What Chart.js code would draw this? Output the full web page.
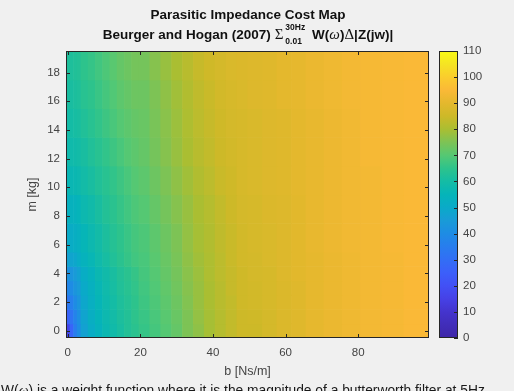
<!DOCTYPE html>
<html>
<head>
<meta charset="utf-8">
<script src="https://cdn.jsdelivr.net/npm/chart.js@4.4.1/dist/chart.umd.min.js"></script>
<style>
  html, body { margin: 0; padding: 0; background: #f0f0f0; }
  #fig { position: relative; width: 514px; height: 391px; overflow: hidden;
         font-family: "Liberation Sans", Arial, sans-serif; }
  #main { position: absolute; left: 0; top: 0; }
  #cbar { position: absolute; left: 439px; top: 0; }
  .title { position: absolute; left: 0; width: 496px; text-align: center;
           font-weight: bold; color: #111; font-size: 13.5px; white-space: nowrap; }
  #t1 { top: 7px; line-height: 16px; }
  #t2 { top: 26px; line-height: 16px; }
  .sym { font-family: "Liberation Serif", "DejaVu Serif", serif; font-weight: normal; font-size: 15px; }
  .ss { position: relative; display: inline-block; width: 25px; height: 10px; font-size: 8.5px; }
  .ss span { position: absolute; left: 2px; line-height: 9px; }
  .ss .sup { top: -6px; }
  .ss .sub { top: 8px; }
  #note { position: absolute; left: 1px; top: 383px; font-size: 13.8px; line-height: 15px;
          color: #1a1a1a; white-space: nowrap; }
  #note .sym { font-size: 14px; }
</style>
</head>
<body>
<div id="fig">
  <canvas id="main" width="514" height="391"></canvas>
  <canvas id="cbar" width="75" height="391"></canvas>
  <div class="title" id="t1">Parasitic Impedance Cost Map</div>
  <div class="title" id="t2">Beurger and Hogan (2007) <span class="sym">Σ</span><span class="ss"><span class="sup">30Hz</span><span class="sub">0.01</span></span> W(<i class="sym">ω</i>)<span class="sym">Δ</span>|Z(jw)|</div>
  <div id="note">W(<i class="sym">ω</i>) is a weight function where it is the magnitude of a butterworth filter at 5Hz</div>
</div>
<script>
// damping b [Ns/m] cell boundaries (columns) and mass m [kg] cell boundaries (rows)
const bEdges = [-0.5, 0.5, 1.5, 2.5, 3.5, 5.5, 7.5, 9.5, 11.5, 13.5, 15.5, 17.5, 19.5,
                22.5, 25.5, 28.5, 31.5, 34.5, 37.5, 40.5, 43.5, 46.5, 49.5, 53.5, 57.5,
                61.5, 65.5, 70.5, 75.5, 80.5, 86.5, 92.5, 99.5];
const mEdges = [-0.5, 0.5, 1.5, 2.5, 3.5, 4.5, 5.5, 7.5, 9.5, 11.5, 13.5, 15.5, 17.5, 19.5];

// cost per cell, one row per mass band (bottom to top)
const costM0  = [16,27,35,40,47,51,54,57,59,61,63,64.5, 66,68,70,72,75,77,79.5,81.5,83.5,85, 85,86.5,88,89,90.5,91.5,92.5,93.5,94,95];
const costM1  = [26,32,37,41,48,52,55,57.5,59.5,61.5,63,65, 66.5,68.5,70.5,72.5,75,77.5,79.5,81.5,83.5,85, 85.5,86.5,88,89,90.5,91.5,92.5,93.5,94,95];
const costM2  = [33,36,40,43,49,52.5,55.5,58,60,62,63.5,65, 67,69,71,73,75.5,78,80,82,83.5,85.5, 86,87,88,89,90.5,91.5,92.5,93.5,94,95];
const costM3  = [38,40,43,45,50,53,56,58.5,60.5,62.5,64,65.5, 67.5,69.5,71.5,73.5,76,78,80,82,84,85.5, 86,87,88,89,90.5,91.5,92.5,93.5,94,95];
const costM4  = [42,43,45,47,51.5,54,57,59,61,63,64.5,66, 68,70,72,74,76.5,78.5,80.5,82.5,84,85.5, 86.5,87,88.5,89.5,90.5,91.5,92.5,93.5,94,95];
const costM5  = [47,48,49,51,54,56,58.5,60.5,62.5,64.5,66,67.5, 68.5,70.5,72.5,74.5,77,79,80.5,82.5,84.5,86, 86.5,87.5,88.5,89.5,90.5,91.5,92.5,93.5,94,95];
const costM6  = [50,51,52,53,55.5,57.5,59.5,61.5,63.5,65,66.5,68, 69,71,73,75,77.5,79.5,81,83,84.5,86, 87,87.5,88.5,89.5,91,92,93,93.5,94.5,95];
const costM8  = [53,53.5,54,55,57.5,59,61,63,64.5,66,67.5,69, 70,72,74,76,78,80,81.5,83.5,85,86.5, 87,88,88.5,89.5,91,92,93,93.5,94.5,95];
const costM10 = [56,56.5,57,57.5,59.5,61,62.5,64,65.5,67,68.5,70, 71,73,75,77,79,81,82.5,84.5,85.5,87, 87.5,88.5,89,90,91,92,93,93.5,94.5,95];
const costM12 = [58,58.5,59,59.5,61,62.5,64,65.5,67,68.5,70,71, 72,74,76,78,80,82,83.5,85,86,87, 87.5,88.5,89,90,91,92,93,94,94.5,95];
const costM14 = [59.5,60,60.5,61,62.5,64,65.5,67,68.5,70,71,72, 72.5,74.5,76.5,78.5,80.5,82.5,84,85.5,86.5,87, 87.5,88.5,89,90,91,92,93,94,94.5,95];
const costM16 = [61,61,61.5,62,64,65,66.5,68,69.5,71,72,73, 73,75,77,79,81,83,84.5,86,87,87.5, 88.5,89,90,90.5,91.5,92.5,93.5,94,94.5,95];
const costM18 = [62,62,62.5,63,65,66,67.5,69,70.5,72,73,74, 74,76,78,80,82,84,85.5,86.5,87.5,88, 88.5,89,90,90.5,91.5,92.5,93.5,94,94.5,95];
const costRows = [costM0, costM1, costM2, costM3, costM4, costM5, costM6,
                  costM8, costM10, costM12, costM14, costM16, costM18];

const xTicks = [0, 20, 40, 60, 80];
const yTicks = [0, 2, 4, 6, 8, 10, 12, 14, 16, 18];
const cbTicks = [0, 10, 20, 30, 40, 50, 60, 70, 80, 90, 100, 110];
const colorLimits = [0, 110];

// parula-like colormap, one colour every 5 units
const cmap = [
  [62,38,168],[65,45,185],[68,52,205],[70,65,230],[66,80,245],[60,95,250],
  [50,110,245],[40,125,238],[30,140,228],[25,155,215],[10,170,200],[5,180,185],
  [20,188,165],[45,195,140],[85,200,115],[125,195,85],[170,190,50],[205,185,40],
  [228,184,45],[250,185,55],[250,205,45],[245,228,35],[249,250,20]
];
function parula(v) {
  const t = Math.max(0, Math.min(1, (v - colorLimits[0]) / (colorLimits[1] - colorLimits[0])));
  const p = t * (cmap.length - 1), i = Math.min(cmap.length - 2, Math.floor(p)), f = p - i;
  const c = cmap[i].map((a, k) => Math.round(a + (cmap[i + 1][k] - a) * f));
  return `rgb(${c[0]},${c[1]},${c[2]})`;
}

Chart.defaults.font.family = "'Liberation Sans', Arial, sans-serif";
const axisColor = '#262626';
const labelColor = '#444';
const tickFont = { size: 11.5 };
const fixTicks = list => axis => { axis.ticks = list.map(v => ({ value: v })); };

// draws the cost cells inside the axes
const heatCells = {
  id: 'heatCells',
  beforeDatasetsDraw(chart) {
    const { ctx, chartArea: a, scales: { x, y } } = chart;
    ctx.save();
    ctx.beginPath();
    ctx.rect(a.left, a.top, a.width, a.height);
    ctx.clip();
    costRows.forEach((row, j) => {
      const yTop = y.getPixelForValue(mEdges[j + 1]);
      const yBot = y.getPixelForValue(mEdges[j]);
      row.forEach((v, i) => {
        const x0 = x.getPixelForValue(bEdges[i]);
        const x1 = x.getPixelForValue(bEdges[i + 1]);
        ctx.fillStyle = parula(v);
        ctx.fillRect(x0, yTop, x1 - x0 + 0.6, yBot - yTop + 0.6);
      });
    });
    ctx.restore();
  }
};

// matlab style box with inward ticks
const boxTicks = {
  id: 'boxTicks',
  afterDraw(chart, args, opts) {
    const { ctx, chartArea: a, scales } = chart;
    ctx.save();
    ctx.strokeStyle = axisColor;
    ctx.lineWidth = 1;
    ctx.strokeRect(Math.round(a.left) + 0.5, Math.round(a.top) + 0.5,
                   Math.round(a.width) - 1, Math.round(a.height) - 1);
    const len = 4;
    ctx.beginPath();
    if (opts.x) {
      scales.x.ticks.forEach((t, i) => {
        const px = Math.round(scales.x.getPixelForTick(i)) + 0.5;
        ctx.moveTo(px, a.bottom); ctx.lineTo(px, a.bottom - len);
        ctx.moveTo(px, a.top); ctx.lineTo(px, a.top + len);
      });
    }
    const ys = scales.y;
    ys.ticks.forEach((t, i) => {
      const py = Math.round(ys.getPixelForTick(i)) + 0.5;
      if (opts.left) { ctx.moveTo(a.left, py); ctx.lineTo(a.left + len, py); }
      ctx.moveTo(a.right, py); ctx.lineTo(a.right - len, py);
    });
    ctx.stroke();
    ctx.restore();
  }
};

new Chart(document.getElementById('main'), {
  type: 'scatter',
  data: { datasets: [{ data: [], pointRadius: 0 }] },
  plugins: [heatCells, boxTicks],
  options: {
    responsive: false,
    animation: false,
    devicePixelRatio: 1,
    layout: { padding: { top: 51, right: 85, left: 0, bottom: 0 } },
    plugins: { legend: { display: false }, tooltip: { enabled: false },
               boxTicks: { x: true, left: true } },
    scales: {
      x: {
        type: 'linear', min: -0.5, max: 99.5,
        grid: { display: false, drawTicks: false }, border: { display: false },
        afterBuildTicks: fixTicks(xTicks),
        ticks: { color: labelColor, font: tickFont, padding: 8 },
        title: { display: true, text: 'b [Ns/m]', color: labelColor, font: { size: 12.5 },
                 padding: { top: 0, bottom: 12 } },
        afterFit(s) { s.height = 53; }
      },
      y: {
        type: 'linear', min: -0.5, max: 19.5,
        grid: { display: false, drawTicks: false }, border: { display: false },
        afterBuildTicks: fixTicks(yTicks),
        ticks: { color: labelColor, font: tickFont, padding: 6 },
        title: { display: true, text: 'm [kg]', color: labelColor, font: { size: 12.5 },
                 padding: { top: 25, bottom: 0 } },
        afterFit(s) { s.width = 66; }
      }
    }
  }
});

// colour bar
new Chart(document.getElementById('cbar'), {
  type: 'bar',
  data: {
    labels: ['cost'],
    datasets: [{
      data: [colorLimits],
      barPercentage: 1, categoryPercentage: 1,
      borderWidth: 0,
      backgroundColor(c) {
        const chart = c.chart;
        if (!chart.chartArea) return null;
        const ys = chart.scales.y;
        const g = chart.ctx.createLinearGradient(0, ys.getPixelForValue(colorLimits[0]),
                                                 0, ys.getPixelForValue(colorLimits[1]));
        cmap.forEach((rgb, k) => g.addColorStop(k / (cmap.length - 1), `rgb(${rgb.join(',')})`));
        return g;
      }
    }]
  },
  plugins: [boxTicks],
  options: {
    responsive: false,
    animation: false,
    devicePixelRatio: 1,
    layout: { padding: { top: 51, right: 0, left: 0, bottom: 53 } },
    plugins: { legend: { display: false }, tooltip: { enabled: false },
               boxTicks: { x: false, left: false } },
    scales: {
      x: { display: false },
      y: {
        position: 'right', min: colorLimits[0], max: colorLimits[1],
        grid: { display: false, drawTicks: false }, border: { display: false },
        afterBuildTicks: fixTicks(cbTicks),
        ticks: { color: labelColor, font: tickFont, padding: 5 },
        afterFit(s) { s.width = 56; }
      }
    }
  }
});
</script>
</body>
</html>
